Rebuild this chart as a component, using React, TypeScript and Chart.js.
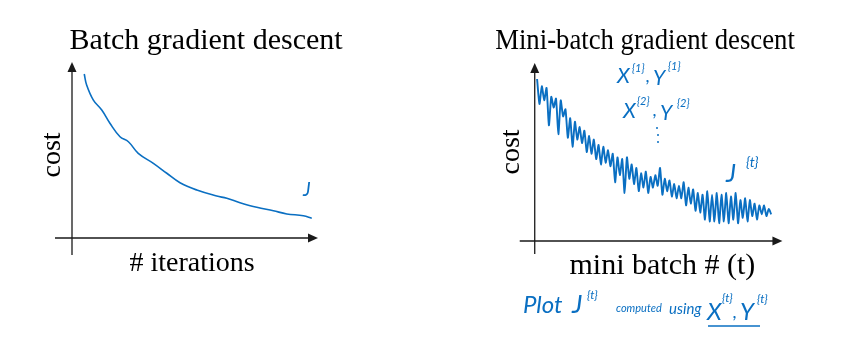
import React, { useEffect, useRef } from "react";
import { Chart, registerables } from "chart.js";

Chart.register(...registerables);

// ---------- data ----------
const batchIterations = [5.1, 6.1, 8.9, 12.4, 15.8, 20, 23.5, 27.6, 33.9, 39.5, 45, 52, 60.3, 64.5, 70, 77, 83.9, 89.5, 96.4, 99.9];
const batchCost = [98.8, 92.2, 83.1, 77.1, 69.1, 61.0, 58.0, 51.0, 45.0, 39.0, 33.3, 28.9, 25.3, 23.9, 21.3, 18.5, 16.4, 14.5, 13.4, 11.9];

const miniBatchCost = [
  91, 77, 87, 79, 86, 65, 81, 75, 80, 60,
  79, 70, 74, 58, 69, 53, 67, 57, 64, 55,
  62, 50, 59, 49, 57, 46, 54, 43, 53, 44,
  51, 42, 49, 33, 47, 37, 46, 27, 47, 35,
  43, 32, 41, 28, 38, 30, 39, 27, 36, 30,
  37, 31, 41, 26, 35, 28, 34, 25, 32, 24,
  31, 24, 33, 20, 30, 21, 29, 17, 27, 16,
  26, 12, 28, 11, 26, 11, 27, 10, 26, 11,
  27, 10, 25, 12, 27, 10, 23, 13, 24, 11,
  23, 14, 21, 12, 20, 15, 20, 14, 18, 15,
];
const miniBatchT = miniBatchCost.map((_, i) => i + 1);

const leftTitle = "Batch gradient descent";
const rightTitle = "Mini-batch gradient descent";
const leftXLabel = "# iterations";
const rightXLabel = "mini batch # (t)";
const yLabel = "cost";

// ---------- styles ----------
const SERIF = '"Liberation Serif", "Times New Roman", serif';
const HAND = 'Lato, "Open Sans", sans-serif';
const INK = "#0a6fc2";
const AXIS = "#1a1a1a";

const arrowAxes = {
  id: "arrowAxes",
  beforeDatasetsDraw(chart: any, _args: any, opts: any) {
    const { ctx, scales } = chart;
    const ox = scales.x.getPixelForValue(0);
    const oy = scales.y.getPixelForValue(0);
    ctx.save();
    ctx.strokeStyle = AXIS;
    ctx.fillStyle = AXIS;
    ctx.lineWidth = 1.3;
    ctx.beginPath();
    ctx.moveTo(ox + opts.left, oy);
    ctx.lineTo(ox + opts.right - 6, oy);
    ctx.moveTo(ox, oy + opts.bottom);
    ctx.lineTo(ox, oy + opts.top + 6);
    ctx.stroke();
    const rx = ox + opts.right;
    ctx.beginPath();
    ctx.moveTo(rx, oy);
    ctx.lineTo(rx - 10, oy - 4.5);
    ctx.lineTo(rx - 10, oy + 4.5);
    ctx.closePath();
    ctx.fill();
    const ty = oy + opts.top;
    ctx.beginPath();
    ctx.moveTo(ox, ty);
    ctx.lineTo(ox - 4.5, ty + 10);
    ctx.lineTo(ox + 4.5, ty + 10);
    ctx.closePath();
    ctx.fill();
    ctx.restore();
  },
};

const handNotes = {
  id: "handNotes",
  afterDraw(chart: any, _args: any, opts: any) {
    const { ctx } = chart;
    ctx.save();
    ctx.fillStyle = INK;
    ctx.strokeStyle = INK;
    ctx.textBaseline = "alphabetic";
    ctx.textAlign = "left";
    for (const t of opts.texts || []) {
      ctx.font = `italic 400 ${t.size}px ${HAND}`;
      ctx.fillText(t.text, t.x, t.y);
    }
    for (const d of opts.dots || []) {
      ctx.beginPath();
      ctx.arc(d[0], d[1], 1, 0, Math.PI * 2);
      ctx.fill();
    }
    ctx.lineWidth = 1.4;
    for (const l of opts.lines || []) {
      ctx.beginPath();
      ctx.moveTo(l[0], l[1]);
      ctx.lineTo(l[2], l[3]);
      ctx.stroke();
    }
    ctx.restore();
  },
};

const hiddenGrid = { display: false, drawTicks: false };

function axisTitle(text: string, size: number, padding: any) {
  return {
    display: true,
    text,
    color: "#000",
    font: { family: SERIF, size, weight: "normal", lineHeight: 1.2 },
    padding,
  };
}

function ChartBox({ config, left }: { config: any; left: number }) {
  const ref = useRef<HTMLCanvasElement>(null);
  useEffect(() => {
    const chart = new Chart(ref.current as HTMLCanvasElement, config);
    return () => chart.destroy();
  }, []);
  return (
    <div style={{ position: "absolute", left, top: 0, width: 424, height: 356 }}>
      <canvas ref={ref} />
    </div>
  );
}

const leftConfig = {
  type: "line",
  data: {
    datasets: [
      {
        data: batchIterations.map((x, i) => ({ x, y: batchCost[i] })),
        borderColor: INK,
        borderWidth: 1.6,
        pointRadius: 0,
        tension: 0.4,
        fill: false,
        clip: false,
      },
    ],
  },
  options: {
    responsive: true,
    maintainAspectRatio: false,
    animation: false,
    events: [],
    layout: { padding: { left: 36.2, right: 48.2, top: 0, bottom: 75.4 } },
    plugins: {
      legend: { display: false },
      tooltip: { enabled: false },
      title: {
        display: true,
        text: leftTitle,
        color: "#000",
        font: { family: SERIF, size: 30, weight: "normal", lineHeight: 1.2 },
        padding: { top: 23, bottom: 13 },
      },
      arrowAxes: { left: -17, right: 246, top: -176, bottom: 17 },
      handNotes: {
        texts: [{ text: "J", x: 303, y: 196, size: 19 }],
      },
    },
    scales: {
      x: {
        type: "linear",
        min: 0,
        max: 100,
        grid: hiddenGrid,
        border: { display: false },
        ticks: { display: false },
        title: axisTitle(leftXLabel, 28, { top: 9, bottom: 0 }),
      },
      y: {
        type: "linear",
        min: 0,
        max: 100,
        grid: hiddenGrid,
        border: { display: false },
        ticks: { display: false },
        title: axisTitle(yLabel, 28, { top: 0, bottom: 2.2 }),
      },
      y2: {
        type: "linear",
        position: "right",
        display: true,
        grid: hiddenGrid,
        border: { display: false },
        ticks: { display: false },
        afterFit: (s: any) => {
          s.width = 63.8;
        },
      },
    },
  },
  plugins: [arrowAxes, handNotes],
};

const rightConfig = {
  type: "line",
  data: {
    datasets: [
      {
        data: miniBatchT.map((x, i) => ({ x, y: miniBatchCost[i] })),
        borderColor: INK,
        borderWidth: 1.9,
        pointRadius: 0,
        tension: 0.2,
        fill: false,
        clip: false,
      },
    ],
  },
  options: {
    responsive: true,
    maintainAspectRatio: false,
    animation: false,
    events: [],
    layout: { padding: { left: 71.2, right: 53.2, top: 0, bottom: 72 } },
    plugins: {
      legend: { display: false },
      tooltip: { enabled: false },
      title: {
        display: true,
        text: rightTitle,
        color: "#000",
        font: { family: SERIF, size: 30, weight: "normal", lineHeight: 1.2 },
        padding: { top: 23, bottom: 4 },
      },
      arrowAxes: { left: -15, right: 247.7, top: -178, bottom: 13 },
      handNotes: {
        texts: [
          { text: "X", x: 193, y: 83, size: 21 },
          { text: "{1}", x: 208, y: 72, size: 11 },
          { text: ",", x: 222, y: 82, size: 18 },
          { text: "Y", x: 229, y: 85, size: 21 },
          { text: "{1}", x: 244, y: 70, size: 11 },
          { text: "X", x: 199, y: 118, size: 21 },
          { text: "{2}", x: 213, y: 105, size: 11 },
          { text: ",", x: 229, y: 116, size: 18 },
          { text: "Y", x: 236, y: 120, size: 21 },
          { text: "{2}", x: 253, y: 107, size: 11 },
          { text: "J", x: 302, y: 182, size: 25 },
          { text: "{t}", x: 322, y: 167, size: 14 },
          { text: "Plot", x: 99, y: 313, size: 24 },
          { text: "J", x: 148, y: 313, size: 26 },
          { text: "{t}", x: 163, y: 299, size: 12 },
          { text: "computed", x: 192, y: 312, size: 11 },
          { text: "using", x: 245, y: 314, size: 15 },
          { text: "X", x: 283, y: 320, size: 24 },
          { text: "{t}", x: 298, y: 302, size: 12 },
          { text: ",", x: 309, y: 318, size: 18 },
          { text: "Y", x: 316, y: 320, size: 24 },
          { text: "{t}", x: 333, y: 303, size: 12 },
        ],
        dots: [
          [233, 128],
          [234, 135],
          [234, 142],
        ],
        lines: [[284, 326, 336, 326]],
      },
    },
    scales: {
      x: {
        type: "linear",
        min: -2,
        max: 110,
        grid: hiddenGrid,
        border: { display: false },
        ticks: { display: false },
        title: axisTitle(rightXLabel, 30, { top: 7, bottom: 0 }),
      },
      y: {
        type: "linear",
        min: 0,
        max: 100,
        grid: hiddenGrid,
        border: { display: false },
        ticks: { display: false },
        title: axisTitle(yLabel, 28, { top: 0, bottom: 1.2 }),
      },
    },
  },
  plugins: [arrowAxes, handNotes],
};

export default function App() {
  return (
    <div
      style={{
        position: "fixed",
        left: 0,
        top: 0,
        width: 848,
        height: 356,
        background: "#fff",
        overflow: "hidden",
      }}
    >
      <ChartBox config={leftConfig} left={0} />
      <ChartBox config={rightConfig} left={424} />
    </div>
  );
}
